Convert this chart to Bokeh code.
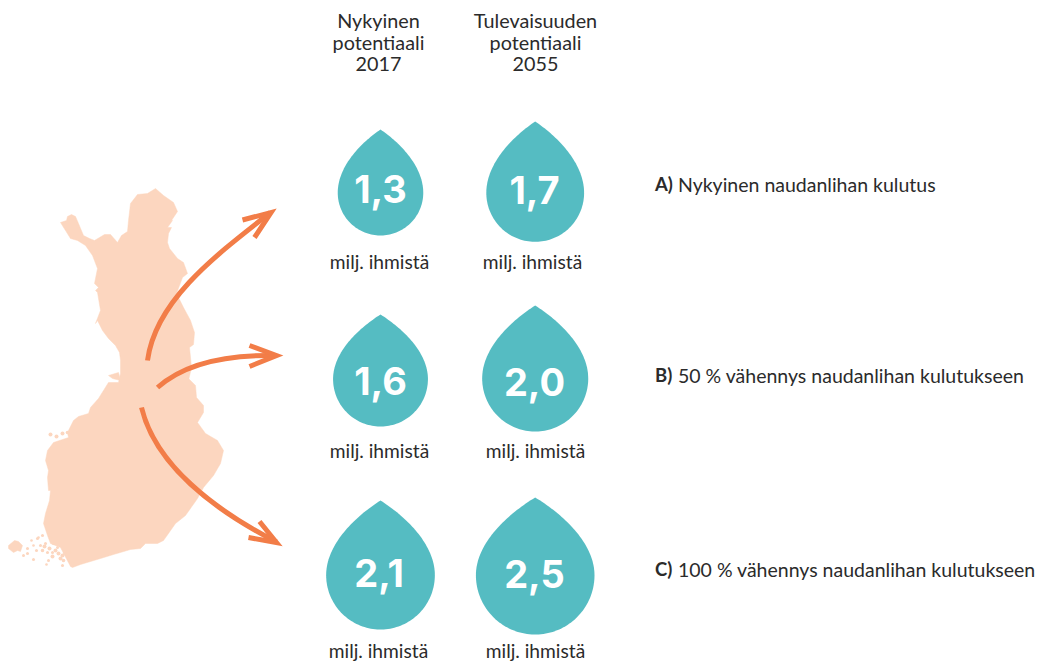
from math import sqrt
import numpy as np
from bokeh.plotting import figure
from bokeh.models import Range1d
from bokeh.core.properties import value
from bokeh.embed import file_html
from bokeh.resources import INLINE

# ---- data ----
columns = ["Nykyinen potentiaali 2017", "Tulevaisuuden potentiaali 2055"]
scenarios = ["A", "B", "C"]
potential_2017 = [1.3, 1.6, 2.1]
potential_2055 = [1.7, 2.0, 2.5]
labels_2017 = ["1,3", "1,6", "2,1"]
labels_2055 = ["1,7", "2,0", "2,5"]
unit = "milj. ihmistä"
head_2017 = ["Nykyinen", "potentiaali", "2017"]
head_2055 = ["Tulevaisuuden", "potentiaali", "2055"]
scen_bold = ["A)", "B)", "C)"]
scen_text = ["Nykyinen naudanlihan kulutus", "50 % vähennys naudanlihan kulutukseen",
             "100 % vähennys naudanlihan kulutukseen"]

finland_x = [60,66,67,71,75,78,83,89,94,99,104,110,117,121,127,128,130,137,147,155,163,173,177,171,172,167,171,168,167,169,177,183,187,182,176,183,190,194,193,189,191,188,
             188,195,196,203,203,197,205,217,223,220,213,203,197,185,175,163,157,145,140,130,113,100,80,72,70,
             60,50,47,43,45,49,50,48,47,48,45,47,53,68,67,73,78,88,90,98,103,108,118,120,
             120,119,115,108,102,97,95,100,97,95,98,94,97,92,85,77,70,65,60]
finland_y = [222,220,216,214,216,223,235,238,240,237,234,234,242,235,231,220,203,194,193,188,195,202,211,220,220,227,227,233,242,248,258,262,273,277,293,307,320,332,344,347,367,380,
             378,385,397,405,412,422,433,440,450,463,475,487,498,515,523,540,543,543,548,549,554,558,564,567,566,
             547,543,535,523,513,500,490,490,477,470,460,450,442,437,432,420,416,413,407,398,390,382,382,373,
             360,352,345,338,330,320,323,310,292,290,287,283,268,255,245,240,238,230,222]
aland_x = [8,14,18,22,20,17,13,8]
aland_y = [545,540,541,545,551,550,552,548]
islets_x = [33,48,46,42,47,52,37,42,50,45,53,27,23,33,62,63,69,72,57,62,27,31,38,50,56,62,67,
            44,49,55,40,58,65,52,36,60,68]
islets_y = [559,560,564,550,552,552,538,535,537,543,543,548,555,545,555,560,557,562,547,565,553,540,537,434,436,433,432,
            546,548,550,545,553,552,556,550,558,552]
islet_size = [1.5,1.5,1.3,1.8,1.5,1.5,1.5,1.5,1.5,1.5,1.5,1.5,1.5,1.3,2,1.8,2,1.5,1.5,1.5,1.5,1.3,1.3,2,2,2,1.8,
              2,2,2,1.5,2,2.5,2,1.5,2,2.5]
cape_x = [108,118,120,112]
cape_y = [375,372,380,378]

# ---- layout ----
TEAL, ORANGE, MAP, INK = "#55BCC2", "#F27D48", "#FCD6BF", "#2B2B2B"
FONT = "Lato"
col_x = [380, 534.7]
drop_tip = [[129, 314, 500], [121, 305, 497]]
drop_bottom = [[235, 426, 629], [241.3, 431, 634]]
K = 37.5  # radius per sqrt(value)

p = figure(width=1043, height=662, x_range=Range1d(0, 1043), y_range=Range1d(662, 0),
           output_backend="svg", toolbar_location=None, min_border=0,
           outline_line_color=None, background_fill_color="white", border_fill_color="white")
p.xaxis.visible = False
p.yaxis.visible = False
p.grid.visible = False

# map
p.patch(finland_x, finland_y, fill_color=MAP, line_color=MAP, line_width=0.5)
p.patch(aland_x, aland_y, fill_color=MAP, line_color=MAP, line_width=0.5)
p.patch(cape_x, cape_y, fill_color=MAP, line_color=MAP, line_width=0.5)
p.circle(islets_x, islets_y, radius=islet_size, fill_color=MAP, line_color=None)

# arrows
def arrow(P0, C0, C1, P3, tip, b1, b2):
    p.bezier(x0=[P0[0]], y0=[P0[1]], x1=[P3[0]], y1=[P3[1]],
             cx0=[C0[0]], cy0=[C0[1]], cx1=[C1[0]], cy1=[C1[1]],
             line_color=ORANGE, line_width=5)
    p.line([b1[0], tip[0], b2[0]], [b1[1], tip[1], b2[1]], line_color=ORANGE, line_width=5,
           line_join="miter", line_cap="butt")

arrow((147, 360), (155, 300), (215, 255), (270, 212), (270.5, 212), (242, 219.5), (254, 237))
arrow((157, 387), (185, 362), (230, 354), (276, 355), (276, 355), (249, 345), (249, 366))
arrow((141, 407), (155, 465), (215, 510), (276, 541.5), (276, 542), (248, 537), (259, 521))

# drops
def drop(cx, tip, bottom, r):
    cy = bottom - r
    h = cy - tip
    t = np.linspace(0, 1, 40)[:, None]
    def bez(a, b, c, d):
        a, b, c, d = map(np.array, (a, b, c, d))
        return (1-t)**3*a + 3*(1-t)**2*t*b + 3*(1-t)*t**2*c + t**3*d
    right = bez((0, 0), (0.5*r, 0.232*h), (r, 0.6*h), (r, h))
    th = np.linspace(0, np.pi, 80)
    xs = list(cx + right[:, 0]) + list(cx + r*np.cos(th)) + list(cx - right[::-1, 0])
    ys = list(tip + right[:, 1]) + list(cy + r*np.sin(th)) + list(tip + right[::-1, 1])
    return xs, ys

for c, vals in enumerate([potential_2017, potential_2055]):
    for i, v in enumerate(vals):
        xs, ys = drop(col_x[c], drop_tip[c][i], drop_bottom[c][i], K*sqrt(v))
        p.patch(xs, ys, fill_color=TEAL, line_color=None)

def label(x, y, t, size, color=INK, align="center", bold=False, font=FONT):
    p.text([x], [y], text=[t], text_font=value(font), text_font_size=f"{size}px", text_color=color,
           text_align=align, text_baseline="middle", text_font_style="bold" if bold else "normal")

# values
value_x = [[380, 380, 378.5], [534, 534, 534]]
value_y = [[188, 380, 572], [189, 381, 573]]
for c, labs in enumerate([labels_2017, labels_2055]):
    for i, t in enumerate(labs):
        label(value_x[c][i], value_y[c][i], t, 38, "white", bold=True, font="Inter")

# headers
for x, lines in zip([378, 535], [head_2017, head_2055]):
    for y, t in zip([19, 41, 63], lines):
        label(x, y, t, 19.8)

# units
unit_x = [[379, 379, 378], [532, 535, 535]]
unit_y = [[261, 450, 650], [261, 450, 650]]
for c in range(2):
    for i in range(3):
        label(unit_x[c][i], unit_y[c][i], unit, 19.2)

# scenarios
for y, b, t in zip([183.5, 374.5, 568.5], scen_bold, scen_text):
    label(654.5, y, b, 18.5, align="left", bold=True)
    label(677.5, y, t, 19.5, align="left")

open("out.html", "w").write(file_html(p, INLINE))
